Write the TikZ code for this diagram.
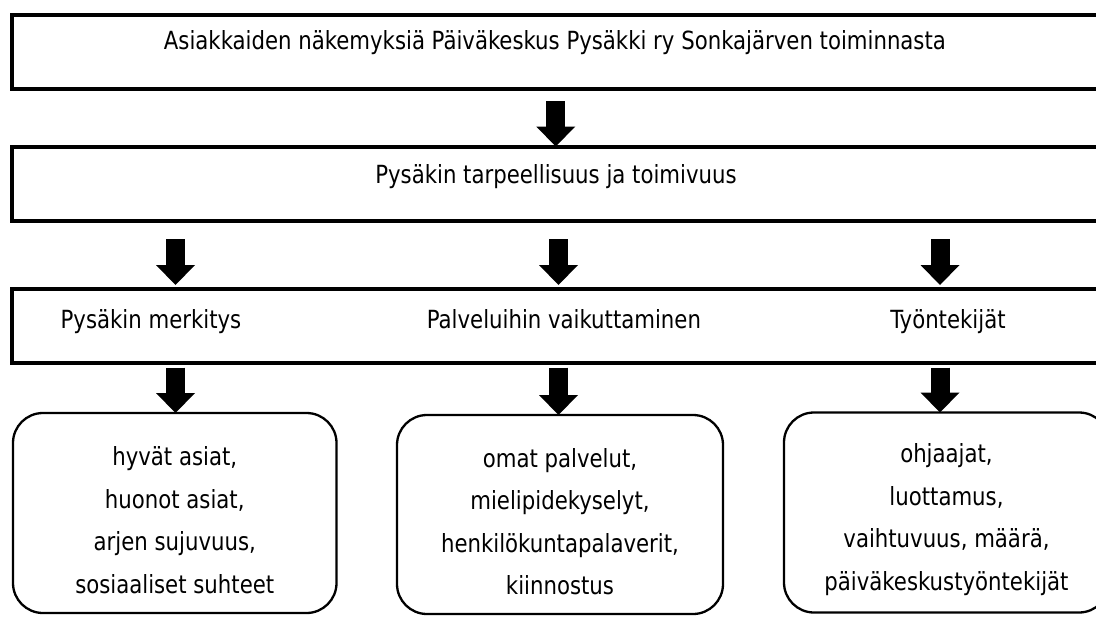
\documentclass[tikz,border=0pt]{standalone}
\usepackage{fontspec}
\setmainfont{DejaVu Sans Condensed}[FakeStretch=0.945]
\usetikzlibrary{arrows.meta}
\begin{document}
\begin{tikzpicture}[x=1pt,y=-1pt,
  sqbox/.style={draw=black,line width=4pt,rectangle,inner sep=0pt,outer sep=0pt},
  rbox/.style={draw=black,line width=2.3pt,rectangle,rounded corners=30pt,inner sep=0pt,outer sep=0pt,
    minimum width=325pt,minimum height=200pt},
  lbl/.style={anchor=base,inner sep=0pt,font=\fontsize{25}{30}\selectfont},
  items/.style={align=center,inner sep=0pt,font=\fontsize{25}{42.5}\selectfont},
  bigarrow/.style={draw=black,line width=19pt,-{Triangle[width=39pt,length=20pt,line width=0pt]}}]
\useasboundingbox (0,0) rectangle (1096,618);
\clip (0,0) rectangle (1096,618);
\fill[white] (0,0) rectangle (1096,618);
% square boxes
\node[sqbox,minimum width=1088.5pt,minimum height=74pt] (b1) at (555.75,52) {};
\node[sqbox,minimum width=1088.5pt,minimum height=74pt] (b2) at (555.75,183.5) {};
\node[sqbox,minimum width=1088.5pt,minimum height=73.5pt] (b3) at (555.75,325.75) {};
\node[lbl] (t1) at (555,50) {Asiakkaiden näkemyksiä Päiväkeskus Pysäkki ry Sonkajärven toiminnasta};
\node[lbl] (t2) at (556,183) {Pysäkin tarpeellisuus ja toimivuus};
\node[lbl] (t3a) at (151,328) {Pysäkin merkitys};
\node[lbl] (t3b) at (564,328) {Palveluihin vaikuttaminen};
\node[lbl] (t3c) at (948,328) {Työntekijät};
% rounded boxes
\node[rbox,minimum width=323.5pt] (r1) at (174.75,513) {};
\node[rbox,minimum width=326pt,minimum height=199pt] (r2) at (560,514.5) {};
\node[rbox] (r3) at (946.5,512.5) {};
\node[items] (i1) at ([yshift=-7pt]r1.center) {hyvät asiat,\\huonot asiat,\\arjen sujuvuus,\\sosiaaliset suhteet};
\node[items] (i2) at ([yshift=-7pt]r2.center) {omat palvelut,\\mielipidekyselyt,\\henkilökuntapalaverit,\\kiinnostus};
\node[items] (i3) at ([yshift=-7pt]r3.center) {ohjaajat,\\luottamus,\\vaihtuvuus, määrä,\\päiväkeskustyöntekijät};
% arrow columns
\coordinate (c1) at (175.5,0);
\coordinate (c2) at (558.5,0);
\coordinate (c3) at (940,0);
% arrows
\draw[bigarrow,shorten <=12.5pt] (b1.south) -- (b2.north);
\draw[bigarrow,shorten <=18.5pt,shorten >=4pt] (b2.south -| c1) -- (b3.north -| c1);
\draw[bigarrow,shorten <=18.5pt,shorten >=4pt] (b2.south -| c2) -- (b3.north -| c2);
\draw[bigarrow,shorten <=18.5pt,shorten >=4pt] (b2.south -| c3) -- (b3.north -| c3);
\draw[bigarrow,shorten <=5pt] (b3.south -| c1) -- (r1.north -| c1);
\draw[bigarrow,shorten <=5pt] (b3.south -| c2) -- (r2.north -| c2);
\draw[bigarrow,shorten <=5pt] (b3.south -| c3) -- (r3.north -| c3);
\end{tikzpicture}
\end{document}
